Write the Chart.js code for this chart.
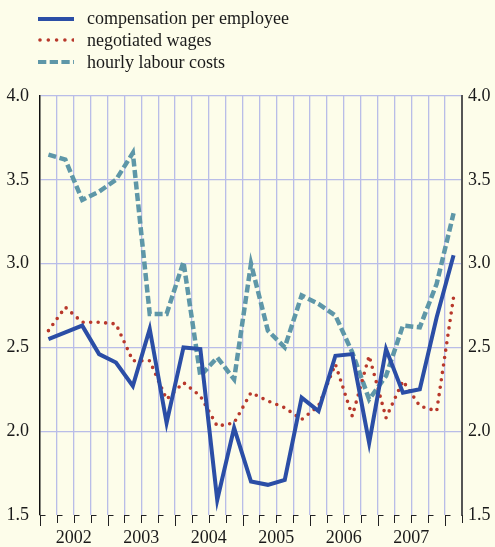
<!DOCTYPE html>
<html>
<head>
<meta charset="utf-8">
<script src="https://cdn.jsdelivr.net/npm/chart.js@4.4.0/dist/chart.umd.min.js"></script>
<style>
html,body{margin:0;padding:0;background:#fdfdea;}
#wrap{position:relative;width:495px;height:547px;}
#legend{position:absolute;left:38px;top:8px;font-family:'Liberation Serif','Times New Roman',serif;font-size:18px;color:#1a1a1a;z-index:2;}
.row{display:flex;align-items:center;height:21.65px;white-space:nowrap;}
.row svg{width:36px;height:8px;margin-right:13px;}
</style>
</head>
<body>
<div id="wrap">
  <div id="legend"></div>
  <canvas id="c" width="495" height="547"></canvas>
</div>
<script>
/* ===== DATA ===== */
const years=['2002','2003','2004','2005','2006','2007'];
const nQ=25; // quarter slots on the axis
const seriesNames=['compensation per employee','negotiated wages','hourly labour costs'];
const compensation=[2.55,2.59,2.63,2.46,2.41,2.27,2.61,2.05,2.50,2.49,1.59,2.02,1.70,1.68,1.71,2.20,2.12,2.45,2.46,1.93,2.49,2.23,2.25,2.68,3.05];
const negotiated=[2.60,2.74,2.65,2.65,2.64,2.42,2.42,2.19,2.29,2.21,2.03,2.05,2.23,2.18,2.14,2.07,2.15,2.40,2.09,2.45,2.08,2.30,2.15,2.12,2.80];
const hourly=[3.65,3.62,3.38,3.43,3.50,3.66,2.70,2.70,3.01,2.33,2.44,2.31,3.00,2.60,2.50,2.81,2.76,2.69,2.47,2.19,2.33,2.63,2.62,2.88,3.30];

const BLUE='#2b4ea6',RED='#b8382b',TEAL='#5e97a8',GRID='#b9bde8';
const FONT="'Liberation Serif','Times New Roman',serif";

// legend (html, svg line samples)
const styles=[
  {stroke:BLUE,w:4,dash:'',cap:'butt'},
  {stroke:RED,w:3.6,dash:'0 8.3',cap:'round'},
  {stroke:TEAL,w:4,dash:'8.3 3.4',cap:'butt'}
];
document.getElementById('legend').innerHTML=seriesNames.map((n,i)=>{
  const s=styles[i];
  return `<div class="row"><svg><line x1="${s.cap==='round'?2:0}" y1="4" x2="36" y2="4" stroke="${s.stroke}" stroke-width="${s.w}" stroke-dasharray="${s.dash}" stroke-linecap="${s.cap}"/></svg><span>${n}</span></div>`;
}).join('');

const pts=arr=>arr.map((v,i)=>({x:i+0.5,y:v}));

// little Γ-shaped ticks under the time axis
const qTicks={
  id:'qTicks',
  afterDraw(c){
    const x=c.scales.x,b=c.chartArea.bottom,ctx=c.ctx;
    ctx.save();
    ctx.strokeStyle='#222';ctx.lineWidth=1;
    for(let k=0;k<=nQ;k++){
      const px=Math.round(x.getPixelForValue(k))+0.5;
      const len=k%4===0?11:8;
      ctx.beginPath();
      ctx.moveTo(px,b);ctx.lineTo(px,b+len);
      if(k<nQ){ctx.moveTo(px,b+0.5);ctx.lineTo(px+5,b+0.5);}
      ctx.stroke();
    }
    ctx.restore();
  }
};

new Chart(document.getElementById('c'),{
  type:'line',
  data:{
    datasets:[
      {label:seriesNames[0],data:pts(compensation),borderColor:BLUE,borderWidth:4,borderJoinStyle:'miter',pointRadius:0,tension:0,fill:false},
      {label:seriesNames[1],data:pts(negotiated),borderColor:RED,borderWidth:3.6,borderDash:[0,7.5],borderCapStyle:'round',pointRadius:0,tension:0,fill:false},
      {label:seriesNames[2],data:pts(hourly),borderColor:TEAL,borderWidth:4.5,borderDash:[8,3.5],pointRadius:0,tension:0,fill:false}
    ]
  },
  options:{
    responsive:false,animation:false,
    layout:{padding:{top:96,left:0,right:0,bottom:0}},
    plugins:{legend:{display:false},tooltip:{enabled:false}},
    scales:{
      x:{
        type:'linear',min:0,max:nQ,
        afterFit:s=>{s.height=32;},
        border:{display:false},
        grid:{drawTicks:false,color:c=>(c.tick.value===0||c.tick.value===nQ)?'rgba(0,0,0,0)':GRID,lineWidth:1.3},
        ticks:{stepSize:1,autoSkip:false,maxRotation:0,padding:12,color:'#1a1a1a',font:{family:FONT,size:18},
          callback:v=>v%4===2?years[(v-2)/4]:''}
      },
      y:{
        position:'left',min:1.5,max:4,
        afterFit:s=>{s.width=40;},
        border:{display:true,color:'#111',width:1.5},
        grid:{drawTicks:false,color:c=>c.tick.value===1.5?'rgba(0,0,0,0)':GRID,lineWidth:1.3},
        ticks:{stepSize:0.5,padding:11,color:'#1a1a1a',font:{family:FONT,size:18},callback:v=>v.toFixed(1)}
      },
      y2:{
        position:'right',min:1.5,max:4,
        afterFit:s=>{s.width=33;},
        border:{display:true,color:'#555',width:2},
        grid:{display:false,drawTicks:false},
        ticks:{stepSize:0.5,padding:6,color:'#1a1a1a',font:{family:FONT,size:18},callback:v=>v.toFixed(1)}
      }
    }
  },
  plugins:[qTicks]
});
</script>
</body>
</html>
